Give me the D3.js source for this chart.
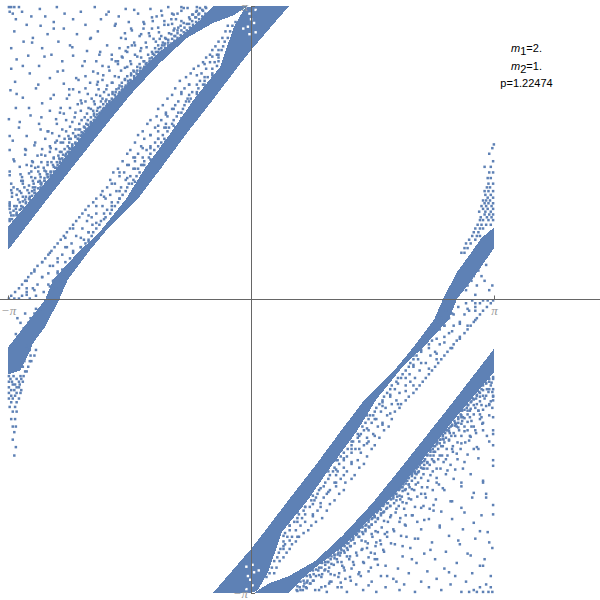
<!DOCTYPE html>
<html><head><meta charset="utf-8">
<script src="https://cdn.jsdelivr.net/npm/d3@7"></script>
<style>html,body{margin:0;background:#fff}svg{display:block}</style></head><body>
<svg id="c" width="600" height="600"></svg>
<script>
const PI = Math.PI;
const xTicks = [-PI, PI];
const yTicks = [-PI, PI];
const annotations = [["m","1","=2."],["m","2","=1."],["","","p=1.22474"]];

// dense bands, read as outlines [x, y]
const bandA = [[-3.14,.53],[-2.6,1.11],[-1.95,1.79],[-1.56,2.19],[-1.18,2.53],[-.83,2.8],[-.49,2.96],[-.23,3.04],[-.04,3.14],[-.49,3.14],[-.66,2.99],[-.83,2.87],[-1.18,2.65],[-1.56,2.33],[-1.95,2.0],[-2.6,1.31],[-3.14,.78]];
const bandB = [[.49,3.14],[0,2.67],[-.17,2.49],[-.49,2.14],[-.83,1.78],[-1.15,1.42],[-1.47,1.07],[-1.87,.74],[-2.11,.5],[-2.37,.21],[-2.48,0],[-2.66,-.29],[-2.82,-.47],[-2.88,-.59],[-2.98,-.76],[-3.14,-.8],[-3.14,-.51],[-2.66,0],[-2.56,.21],[-2.24,.5],[-1.97,.71],[-1.62,1.07],[-1.36,1.42],[-1.04,1.78],[-.74,2.14],[-.4,2.49],[-.22,2.92],[-.08,3.12],[.02,3.14]];
const bandC = [[3.14,-.53],[2.6,-1.11],[1.95,-1.79],[1.56,-2.19],[1.18,-2.53],[.83,-2.8],[.49,-2.96],[.23,-3.04],[.04,-3.14],[.49,-3.14],[.66,-2.99],[.83,-2.87],[1.18,-2.65],[1.56,-2.33],[1.95,-2.0],[2.6,-1.31],[3.14,-.78]];
const bandD = [[-.49,-3.14],[0,-2.67],[.17,-2.49],[.49,-2.14],[.83,-1.78],[1.15,-1.42],[1.47,-1.07],[1.87,-.74],[2.11,-.5],[2.37,-.21],[2.48,0],[2.66,.29],[2.82,.47],[2.98,.66],[3.14,.77],[3.14,.55],[2.96,.33],[2.66,0],[2.56,-.21],[2.24,-.5],[1.97,-.71],[1.62,-1.07],[1.36,-1.42],[1.04,-1.78],[.74,-2.14],[.4,-2.49],[.22,-2.92],[.08,-3.12],[-.02,-3.14]];

// scattered points, one row per y value: [y, x, x, x, ...]
const rowsFarTopLeft = [
[3.13,-3.13,-3.1,-3.06,-3.0,-2.51,-2.02,-1.07,-.9,-.7],[3.11,-2.73,-1.62,-1.3],[3.08,-3.12,-2.96,-2.2,-1.84],[3.06,-3.08,-2.41,-1.46,-1.02],[3.03,-2.84,-2.66,-1.71,-1.22],[3.0,-3.04,-2.3,-1.94,-.97],[2.97,-2.55,-1.58,-1.39],[2.94,-2.9,-2.14,-1.12],[2.93,-2.72,-1.76],[2.9,-2.42,-1.28,-1.55],[2.87,-3.06,-1.98],[2.84,-2.63,-2.25,-1.42],[2.8,-2.82,-1.68],[2.79,-2.08,-1.18],[2.76,-2.94,-2.49],[2.72,-2.34,-1.86,-1.5],[2.69,-3.1,-2.7],[2.66,-2.12,-1.62],[2.62,-2.58,-1.96],[2.61,-2.88,-2.3],[2.57,-3.03,-1.8],[2.55,-2.44,-1.72],[2.5,-2.74,-2.18,-1.92],[2.47,-3.1],[2.44,-2.5,-2.04],[2.42,-2.86],[2.37,-2.26,-2.6],[2.33,-3.05,-1.98],[2.31,-2.42],[2.26,-2.78,-2.14],[2.24,-3.11],[2.19,-2.55,-2.35],[2.16,-2.95],[2.13,-2.2],[2.1,-2.7],[2.05,-3.04,-2.46],[2.02,-2.6],[1.97,-2.85],[1.93,-3.13,-2.52],[1.88,-2.74],[1.84,-3.0],[1.8,-2.62],[1.75,-2.9],[1.7,-3.08],[1.65,-2.8],[1.6,-3.12],[1.55,-2.92],[1.48,-3.06],[1.43,-2.84],[1.37,-3.12],[1.31,-2.96],[1.24,-3.1],[1.18,-3.02]];

const rowsNearTopLeft = [
[.86,-3.09,-3.12],[.9,-3.03,-3.1],[.93,-3.11,-3.03],[.97,-3.12,-2.97,-3.04],[1.0,-3.06,-2.97,-3.12],[1.04,-2.91,-3.12,-2.99],[1.07,-2.92,-2.86,-3.01],[1.1,-2.95,-3.09,-2.86],[1.14,-2.8,-2.97,-2.87,-3.09],[1.17,-2.8,-2.89,-3.1],[1.2,-2.82,-2.72,-2.93],[1.24,-2.72,-2.95,-2.81],[1.27,-2.73,-2.67,-2.97,-2.82],[1.31,-2.72,-2.62,-2.84],[1.34,-2.64,-2.73,-2.98],[1.37,-2.59,-2.65,-2.84,-2.75],[1.41,-2.68,-2.53,-2.79],[1.44,-2.5,-2.63,-2.9,-2.56],[1.47,-2.71,-2.47,-2.58,-2.82],[1.51,-2.44,-2.55,-2.48],[1.54,-2.66,-2.4,-2.49,-2.76],[1.58,-2.37,-2.6,-2.45],[1.61,-2.34,-2.52,-2.41,-2.7,-2.92],[1.64,-2.31,-2.37,-2.6],[1.68,-2.46,-2.27,-2.35,-2.53],[1.72,-2.24,-2.66,-2.33,-2.41],[1.75,-2.2,-2.27,-2.48,-2.36],[1.78,-2.57,-2.17,-2.3],[1.82,-2.13,-2.21,-2.44,-2.27,-2.72],[1.85,-2.34,-2.09,-2.16],[1.88,-2.07,-2.22,-2.51,-2.13],[1.92,-2.03,-2.11,-2.39,-2.19],[1.95,-2.01,-2.28,-2.07],[1.99,-1.96,-2.12,-2.03,-2.42],[2.02,-2.2,-1.93,-2.04],[2.05,-1.9,-2.34,-1.98,-2.1],[2.09,-1.86,-2.02,-2.24],[2.12,-1.94,-1.83,-2.14,-1.88],[2.15,-1.8,-2.38,-1.92,-2.06],[2.19,-1.76,-1.84,-2.0],[2.22,-2.22,-1.7,-1.79,-1.9],[2.25,-1.66,-1.97,-1.74,-2.3],[2.29,-1.62,-1.86,-1.7],[2.32,-2.08,-1.58,-1.67,-1.8],[2.35,-1.56,-1.92,-1.63],[2.39,-1.51,-1.76,-1.6,-2.14],[2.42,-1.48,-1.55,-1.98],[2.45,-1.68,-1.43,-1.52],[2.49,-1.38,-1.84,-1.47,-1.6],[2.52,-1.36,-1.72,-1.44],[2.55,-1.56,-1.31,-1.38,-2.0],[2.59,-1.28,-1.42,-1.66],[2.62,-1.25,-1.8,-1.33,-1.5],[2.65,-1.6,-1.2,-1.28],[2.69,-1.16,-1.42,-1.24,-1.7],[2.72,-1.12,-1.2,-1.54],[2.75,-1.36,-1.07,-1.14],[2.79,-1.02,-1.62,-1.1,-1.26],[2.82,-.98,-1.16,-1.44],[2.85,-.95,-1.06,-1.32],[2.88,-.9,-1.54,-1.0],[2.91,-.86,-1.2,-.94],[2.95,-.8,-1.02,-1.38],[2.98,-.76,-.9,-1.12],[3.02,-.72,-1.28,-.8],[3.05,-.68,-1.0,-.76],[3.09,-.62,-.9,-1.16,-.7],[3.12,-.58,-.66,-.82]];

const rowsGapUpper = [
[3.08,.02,-.05,.08],[3.03,-.12,.05],[2.97,-.2,-.16],[2.93,-.24,-.3],[2.87,-.33,-.27],[2.8,-.37,-.3],[2.76,-.34,-.42],[2.71,-.46,-.36],[2.67,-.38,-.5,-.42],[2.62,-.53,-.44],[2.59,-.42,-.58],[2.54,-.62,-.47,-.53],[2.5,-.44,-.68],[2.47,-.58,-.5,-.74],[2.42,-.5,-.64,-.78],[2.38,-.84,-.56,-.6],[2.34,-.66,-.92,-.6],[2.3,-.7,-.62,-.8],[2.26,-.98,-.68,-.86],[2.22,-.76,-.9,-.7],[2.19,-1.02,-.8],[2.15,-.82,-.78,-1.08],[2.12,-.94,-.84],[2.08,-1.14,-.86,-.98],[2.04,-1.02,-.88,-1.2],[2.0,-.94,-1.1],[1.96,-1.22,-.96,-1.08],[1.92,-1.0,-1.16,-1.3],[1.88,-1.34,-1.02,-1.1],[1.84,-1.06,-1.24,-1.12],[1.8,-1.4,-1.08,-1.2],[1.76,-1.14,-1.3,-1.46],[1.72,-1.2,-1.12,-1.38],[1.68,-1.5,-1.24,-1.16],[1.64,-1.2,-1.42,-1.3],[1.6,-1.56,-1.25,-1.35],[1.56,-1.3,-1.6,-1.46],[1.52,-1.32,-1.4,-1.52],[1.48,-1.66,-1.38,-1.5],[1.44,-1.42,-1.58,-1.38],[1.4,-1.72,-1.46,-1.52],[1.36,-1.44,-1.64,-1.78],[1.32,-1.56,-1.48,-1.7],[1.28,-1.82,-1.52,-1.62],[1.24,-1.58,-1.76,-1.54],[1.2,-1.86,-1.6,-1.68],[1.16,-1.62,-1.92,-1.74],[1.12,-1.66,-1.82,-1.94],[1.08,-1.7,-2.0,-1.88],[1.04,-1.72,-1.8,-2.04],[1.0,-1.92,-1.76,-2.1],[.96,-1.86,-1.8,-2.14],[.92,-2.0,-1.82,-2.18],[.88,-1.88,-2.22,-2.06],[.84,-2.12,-1.94,-2.26],[.8,-1.96,-2.3,-2.05],[.76,-2.0,-2.34,-2.18],[.72,-2.1,-2.04,-2.38],[.68,-2.42,-2.26,-2.06],[.64,-2.1,-2.46,-2.16],[.6,-2.32,-2.14,-2.5],[.56,-2.2,-2.54,-2.38],[.52,-2.16,-2.3,-2.58],[.48,-2.62,-2.22,-2.44],[.44,-2.34,-2.66,-2.26],[.4,-2.5,-2.7,-2.28],[.36,-2.76,-2.36,-2.56],[.32,-2.44,-2.8,-2.36],[.28,-2.62,-2.84,-2.5],[.24,-2.42,-2.88,-2.7],[.2,-2.92,-2.56,-2.46],[.16,-2.76,-2.96,-2.62],[.12,-2.52,-3.0,-2.82],[.08,-3.05,-2.68,-2.9],[.04,-3.1,-2.96,-2.78],[.01,-3.13,-3.06,-3.0,-2.86],[-.1,-2.78,-2.72],[-.15,-2.92,-2.8],[-.2,-2.85,-3.02],[-.25,-2.98,-2.88],[-.31,-2.94],[-.37,-3.04]];

const rowsFarLowerRight = [
[-3.13,3.12,3.07,3.0,2.92,2.82,2.72,2.12,1.62,1.24,.98],[-3.11,2.88,2.46,1.92,1.45],[-3.08,3.1,2.96,2.3,1.74,1.12],[-3.05,3.04,2.58,1.98,1.36],[-3.02,2.78,2.2,1.56,1.02],[-2.99,2.4,1.84,1.22],[-2.96,3.1,2.64,1.68,1.42],[-2.93,2.86,2.04,1.14],[-2.91,2.28,1.52],[-2.88,2.5,1.9,1.3],[-2.85,2.96,1.74,1.18],[-2.82,2.66,2.14,1.46],[-2.78,3.02,2.38,1.6],[-2.75,1.96,1.28],[-2.72,2.8,2.24],[-2.7,2.52,1.72],[-2.66,3.12,2.06,1.5],[-2.62,2.7,1.86],[-2.6,2.34,1.62],[-2.56,2.9,2.12],[-2.53,2.56,1.94],[-2.49,3.06,1.76],[-2.46,2.74,2.2],[-2.42,2.44,2.0],[-2.39,2.88],[-2.35,2.6,2.3],[-2.31,2.98,2.08],[-2.27,2.46],[-2.23,2.72,2.2],[-2.2,3.13,2.36],[-2.16,2.58],[-2.12,2.86,2.26],[-2.08,3.04],[-2.04,2.5],[-2.0,2.72],[-1.96,3.0,2.4],[-1.92,2.62],[-1.87,2.84],[-1.83,2.54],[-1.78,3.13],[-1.74,2.76],[-1.7,2.94],[-1.65,2.66],[-1.6,2.88],[-1.56,3.13],[-1.51,2.82],[-1.46,3.05],[-1.4,3.13,2.9],[-1.32,3.0],[-1.26,3.13],[-1.19,2.94],[-1.12,3.08],[-1.04,3.13]];

const rowsNearLowerRight = [
[-.85,3.08,3.13],[-.89,3.04,3.11],[-.92,3.1,3.0],[-.96,3.13,2.98,3.05],[-.99,3.07,2.95,3.12],[-1.03,2.92,3.13,3.0],[-1.06,2.91,2.87,3.02],[-1.09,2.96,3.1,2.85],[-1.13,2.81,2.98,2.88,3.08],[-1.16,2.79,2.9,3.12],[-1.19,2.83,2.73,2.94],[-1.23,2.71,2.96,2.8],[-1.26,2.74,2.68,2.98,2.83],[-1.3,2.73,2.63,2.85],[-1.33,2.65,2.72,2.99],[-1.36,2.58,2.66,2.85,2.76],[-1.4,2.69,2.54,2.8],[-1.43,2.51,2.62,2.91,2.57],[-1.46,2.72,2.48,2.59,2.83],[-1.5,2.45,2.56,2.49],[-1.53,2.67,2.41,2.5,2.77],[-1.57,2.38,2.61,2.46],[-1.6,2.35,2.53,2.42,2.71,2.94],[-1.63,2.32,2.38,2.61],[-1.67,2.47,2.28,2.36,2.54],[-1.71,2.25,2.67,2.34,2.42],[-1.74,2.21,2.28,2.49,2.37],[-1.77,2.58,2.18,2.31],[-1.81,2.14,2.22,2.45,2.28,2.74],[-1.84,2.35,2.1,2.17],[-1.87,2.08,2.23,2.52,2.14],[-1.91,2.04,2.12,2.4,2.2],[-1.94,2.02,2.29,2.08],[-1.98,1.97,2.13,2.04,2.43],[-2.01,2.21,1.94,2.05],[-2.04,1.91,2.35,1.99,2.11],[-2.08,1.87,2.03,2.25],[-2.11,1.95,1.84,2.15,1.89],[-2.14,1.81,2.39,1.93,2.07],[-2.18,1.77,1.85,2.01],[-2.21,2.23,1.71,1.8,1.91],[-2.24,1.67,1.98,1.75,2.31],[-2.28,1.63,1.87,1.71],[-2.31,2.09,1.59,1.68,1.81],[-2.34,1.57,1.93,1.64],[-2.38,1.52,1.77,1.61,2.15],[-2.41,1.49,1.56,1.99],[-2.44,1.69,1.44,1.53],[-2.48,1.39,1.85,1.48,1.61],[-2.51,1.37,1.73,1.45],[-2.54,1.57,1.32,1.39,2.01],[-2.58,1.29,1.43,1.67],[-2.61,1.26,1.81,1.34,1.51],[-2.64,1.61,1.21,1.29],[-2.68,1.17,1.43,1.25,1.71],[-2.71,1.13,1.21,1.55],[-2.74,1.37,1.08,1.15],[-2.78,1.03,1.63,1.11,1.27],[-2.81,.99,1.17,1.45],[-2.84,.96,1.07,1.33],[-2.87,.91,1.55,1.01],[-2.9,.87,1.21,.95],[-2.94,.81,1.03,1.39],[-2.97,.77,.91,1.13],[-3.01,.73,1.29,.81],[-3.04,.69,1.01,.77],[-3.08,.63,.91,1.17,.71],[-3.11,.59,.67,.83]];

const rowsGapLower = [
[-3.08,-.02,.05,-.08],[-3.03,.12,-.05],[-2.97,.2,.16],[-2.93,.24,.3],[-2.87,.33,.27],[-2.8,.37,.3],[-2.76,.34,.42],[-2.71,.46,.36],[-2.67,.38,.5,.42],[-2.62,.53,.44],[-2.59,.42,.58],[-2.54,.62,.47,.53],[-2.5,.44,.68],[-2.47,.58,.5,.74],[-2.42,.5,.64,.78],[-2.38,.84,.56,.6],[-2.34,.66,.92,.6],[-2.3,.7,.62,.8],[-2.26,.98,.68,.86],[-2.22,.76,.9,.7],[-2.19,1.02,.8],[-2.15,.82,.78,1.08],[-2.12,.94,.84],[-2.08,1.14,.86,.98],[-2.04,1.02,.88,1.2],[-2.0,.94,1.1],[-1.96,1.22,.96,1.08],[-1.92,1.0,1.16,1.3],[-1.88,1.34,1.02,1.1],[-1.84,1.06,1.24,1.12],[-1.8,1.4,1.08,1.2],[-1.76,1.14,1.3,1.46],[-1.72,1.2,1.12,1.38],[-1.68,1.5,1.24,1.16],[-1.64,1.2,1.42,1.3],[-1.6,1.56,1.25,1.35],[-1.56,1.3,1.6,1.46],[-1.52,1.32,1.4,1.52],[-1.48,1.66,1.38,1.5],[-1.44,1.42,1.58,1.38],[-1.4,1.72,1.46,1.52],[-1.36,1.44,1.64,1.78],[-1.32,1.56,1.48,1.7],[-1.28,1.82,1.52,1.62],[-1.24,1.58,1.76,1.54],[-1.2,1.86,1.6,1.68],[-1.16,1.62,1.92,1.74],[-1.12,1.66,1.82,1.94],[-1.08,1.7,2.0,1.88],[-1.04,1.72,1.8,2.04],[-1.0,1.92,1.76,2.1],[-.96,1.86,1.8,2.14],[-.92,2.0,1.82,2.18],[-.88,1.88,2.22,2.06],[-.84,2.12,1.94,2.26],[-.8,1.96,2.3,2.05],[-.76,2.0,2.34,2.18],[-.72,2.1,2.04,2.38],[-.68,2.42,2.26,2.06],[-.64,2.1,2.46,2.16],[-.6,2.32,2.14,2.5],[-.56,2.2,2.54,2.38],[-.52,2.16,2.3,2.58],[-.48,2.62,2.22,2.44],[-.44,2.34,2.66,2.26],[-.4,2.5,2.7,2.28],[-.36,2.76,2.36,2.56],[-.32,2.44,2.8,2.36],[-.28,2.62,2.84,2.5],[-.24,2.42,2.88,2.7],[-.2,2.92,2.56,2.46],[-.16,2.76,2.96,2.62],[-.12,2.52,3.0,2.82],[-.08,3.05,2.68,2.9],[-.04,3.1,2.96,2.78],[-.01,3.13,3.06,3.0,2.86],[.1,2.78,2.72,3.08],[.15,2.92,2.8,3.12],[.2,2.85,3.02],[.25,2.98,2.88],[.31,2.94],[.37,3.04]];

const rowsTails = [
[-.5,-2.9],[-.54,-2.86,-2.78],[-.6,-2.85,-2.8],[-.66,-2.93,-2.86,-2.84],[-.72,-2.95,-2.88],[-.77,-2.92,-2.9],[-.82,-3.13,-3.07,-2.98,-2.94],[-.85,-3.11,-3.03,-2.97],[-.88,-3.13,-3.09,-3.0,-2.95],[-.91,-3.08,-3.05,-2.99],[-.94,-3.13,-3.0,-3.03],[-.97,-3.1,-3.06,-2.97],[-1.0,-3.13,-3.03,-2.98],[-1.03,-3.1,-3.05],[-1.06,-3.13,-3.08,-3.0],[-1.1,-3.1,-3.03],[-1.15,-3.12,-3.05],[-1.2,-3.08,-3.03],[-1.28,-3.1,-3.05],[-1.36,-3.08,-3.04],[-1.42,-3.06],[-1.5,-3.08],[-1.58,-3.04],[-1.67,-3.06],
[.5,2.72,2.76],[.55,2.8,2.76],[.6,2.84,2.78],[.64,2.82,2.9],[.68,2.86,2.92,2.96],[.72,2.88,2.94],[.76,2.9,3.0,2.96],[.8,3.1,3.04,2.98,2.93],[.85,3.13,3.07,3.0,2.96],[.88,3.11,3.05,2.97],[.91,3.13,3.08,3.02],[.94,3.1,3.03,2.95],[.97,3.13,3.06,3.0],[1.0,3.11,3.04,2.98],[1.03,3.13,3.07,3.02],[1.06,3.09,3.04,3.0],[1.09,3.13,3.06],[1.12,3.1,3.03],[1.16,3.13,3.07,3.02],[1.2,3.09,3.05],[1.24,3.13,3.07],[1.3,3.1,3.06],[1.36,3.13,3.08],[1.42,3.1,3.02],[1.48,3.13],[1.56,3.08],[1.62,3.12],[1.66,3.14]];

// further scattered points, one column per x value: [x, y, y, y, ...]
const colsTopLeft = [
[-3.12,.84,1.02,1.33,1.75],[-3.07,.9,.95,1.2,1.5],[-3.03,1.0,.91,1.12,2.2],[-2.99,.96,1.16,1.42,1.9],[-2.95,1.05,1.27,.99,2.5],[-2.91,1.03,1.1,1.6],[-2.87,1.08,1.35,1.22,2.05],[-2.83,1.11,1.16,1.48,2.75],[-2.79,1.2,1.14,1.3,1.68],[-2.75,1.19,1.42,1.26,2.3],[-2.71,1.23,1.25,1.55,1.95],[-2.67,1.38,1.27,1.3,2.6],[-2.63,1.31,1.47,1.34,1.8],[-2.59,1.36,1.33,1.62,2.15],[-2.55,1.42,1.37,1.52,2.9],[-2.51,1.41,1.47,1.7],[-2.47,1.5,1.46,1.58,2.0],[-2.43,1.49,1.68,1.55,2.45],[-2.39,1.56,1.53,1.8],[-2.35,1.58,1.72,1.62,2.25],[-2.31,1.62,1.66,1.9,2.7],[-2.27,1.67,1.74,2.0],[-2.23,1.72,1.82,1.76,2.35],[-2.19,1.76,1.79,2.1],[-2.15,1.8,1.95,1.84,2.55],[-2.11,1.83,1.87,2.2],[-2.07,1.9,2.04,1.88,2.8],[-2.03,1.92,2.12,1.97],[-1.99,1.98,2.02,2.3],[-1.95,2.0,2.18,2.06,2.65],[-1.91,2.04,2.09,2.4],[-1.87,2.07,2.14,2.25,3.05],[-1.83,2.1,2.12,2.45],[-1.79,2.14,2.32,2.2],[-1.75,2.17,2.22,2.55,2.95],[-1.71,2.2,2.38,2.26],[-1.67,2.24,2.28,2.6],[-1.63,2.27,2.36,2.48,2.85],[-1.59,2.31,2.34,2.7],[-1.55,2.34,2.52,2.4],[-1.51,2.37,2.44,2.75,3.1],[-1.47,2.41,2.6,2.45],[-1.43,2.44,2.48,2.66],[-1.39,2.47,2.55,2.9],[-1.35,2.5,2.7,2.53],[-1.31,2.54,2.58,2.82],[-1.27,2.57,2.63,2.98],[-1.23,2.6,2.76,2.65],[-1.19,2.64,2.68,2.86],[-1.15,2.66,2.72,3.04],[-1.11,2.69,2.8,2.74],[-1.07,2.72,2.78,2.94],[-1.03,2.74,2.84,3.0],[-.99,2.77,2.82,2.9],[-.95,2.8,2.88,3.06],[-.91,2.83,2.93],[-.87,2.86,2.96,3.12],[-.83,2.88,2.95],[-.79,2.91,3.0],[-.75,2.94,3.05],[-.71,2.97,3.08,3.02],[-.67,3.0,3.06],[-.63,3.03,3.1],[-.59,3.06,3.13]];

const colsLowerRight = [
[3.13,-.83,-1.08,-1.44,-1.72,-2.3],[3.08,-.88,-.96,-1.24,-1.52,-2.6],[3.04,-.9,-1.03,-1.14,-2.12],[3.0,-.97,-1.18,-1.4,-1.94,-2.85],[2.96,-1.04,-1.28,-1.0,-2.48],[2.92,-1.02,-1.12,-1.58],[2.88,-1.07,-1.36,-1.23,-2.07],[2.84,-1.1,-1.17,-1.47,-2.74],[2.8,-1.19,-1.13,-1.31,-1.66],[2.76,-1.18,-1.41,-1.27,-2.28],[2.72,-1.24,-1.26,-1.54,-1.96],[2.68,-1.37,-1.28,-1.32,-2.58],[2.64,-1.32,-1.46,-1.35,-1.82],[2.6,-1.35,-1.34,-1.6,-2.16],[2.56,-1.41,-1.38,-1.51,-2.92],[2.52,-1.4,-1.48,-1.71],[2.48,-1.49,-1.45,-1.57,-2.02],[2.44,-1.5,-1.67,-1.54,-2.44],[2.4,-1.55,-1.52,-1.81],[2.36,-1.57,-1.73,-1.63,-2.26],[2.32,-1.61,-1.67,-1.88,-2.68],[2.28,-1.66,-1.75,-2.01],[2.24,-1.73,-1.81,-1.77,-2.36],[2.2,-1.75,-1.8,-2.08],[2.16,-1.79,-1.96,-1.85,-2.56],[2.12,-1.84,-1.86,-2.22],[2.08,-1.89,-2.03,-1.87,-2.78],[2.04,-1.91,-2.13,-1.98],[2.0,-1.97,-2.03,-2.31],[1.96,-2.01,-2.17,-2.05,-2.64],[1.92,-2.03,-2.1,-2.38],[1.88,-2.08,-2.15,-2.24,-3.02],[1.84,-2.09,-2.13,-2.46],[1.8,-2.13,-2.33,-2.21],[1.76,-2.18,-2.23,-2.54,-2.96],[1.72,-2.19,-2.37,-2.27],[1.68,-2.25,-2.29,-2.62],[1.64,-2.26,-2.35,-2.49,-2.84],[1.6,-2.32,-2.33,-2.72],[1.56,-2.35,-2.51,-2.41],[1.52,-2.36,-2.43,-2.76,-3.06],[1.48,-2.42,-2.59,-2.46],[1.44,-2.43,-2.49,-2.67],[1.4,-2.48,-2.54,-2.92],[1.36,-2.49,-2.71,-2.52],[1.32,-2.55,-2.57,-2.81],[1.28,-2.56,-2.64,-2.97],[1.24,-2.61,-2.75,-2.66],[1.2,-2.63,-2.69,-2.87],[1.16,-2.67,-2.71,-3.03],[1.12,-2.68,-2.81,-2.73],[1.08,-2.73,-2.77,-2.95],[1.04,-2.75,-2.83,-3.02],[1.0,-2.76,-2.81,-2.91],[.96,-2.81,-2.89,-3.07],[.92,-2.82,-2.94],[.88,-2.87,-2.95,-3.11],[.84,-2.89,-2.96],[.8,-2.9,-3.01],[.76,-2.95,-3.04],[.72,-2.96,-3.09,-3.03],[.68,-3.01,-3.07],[.64,-3.02,-3.11],[.6,-3.07,-3.12]];

const colsGapUpper = [
[-2.9,.12,.2,.05],[-2.8,.3,.1],[-2.7,.24,.4],[-2.6,.36,.5,.14],[-2.5,.44,.3],[-2.4,.56,.4,.66],[-2.3,.5,.76],[-2.2,.66,.56],[-2.1,.72,.9,.62],[-2.0,.82,1.0],[-1.9,.92,1.1,.86],[-1.8,1.0,1.24],[-1.7,1.16,1.08,1.36],[-1.6,1.3,1.44],[-1.5,1.26,1.52,1.4],[-1.4,1.44,1.62],[-1.3,1.5,1.76,1.62],[-1.2,1.72,1.86],[-1.1,1.7,1.98,1.84],[-1.0,1.86,2.04],[-.9,2.0,2.2,1.94],[-.8,2.12,2.3],[-.7,2.2,2.4],[-.6,2.3,2.52],[-.5,2.4,2.6],[-.42,2.55,2.62]];

const colsGapLower = [
[2.9,-.12,-.22,-.04,.05],[2.8,-.28,-.1],[2.7,-.26,-.42],[2.6,-.34,-.52,-.15],[2.5,-.46,-.28],[2.4,-.58,-.42,-.64],[2.3,-.48,-.74],[2.2,-.68,-.54],[2.1,-.7,-.92,-.6],[2.0,-.84,-.98],[1.9,-.9,-1.12,-.84],[1.8,-1.02,-1.22],[1.7,-1.14,-1.1,-1.34],[1.6,-1.28,-1.46],[1.5,-1.24,-1.54,-1.38],[1.4,-1.46,-1.6],[1.3,-1.52,-1.74,-1.6],[1.2,-1.7,-1.88],[1.1,-1.72,-1.96,-1.82],[1.0,-1.84,-2.06],[.9,-2.02,-2.18,-1.92],[.8,-2.1,-2.32],[.7,-2.22,-2.38],[.6,-2.28,-2.54],[.5,-2.42,-2.58],[.42,-2.53,-2.64]];

// pale gaps inside the dense bands near the two tips: [x, y]
const gapsInBands = [[-.02,3.06],[.0,3.0],[.04,2.96],[-.04,2.92],[.06,3.1],[-.1,2.9],[-.02,2.84],[.06,2.86],
[.02,-3.06],[-.01,-3.0],[-.04,-2.96],[.04,-2.92],[-.06,-3.1],[.1,-2.9],[.02,-2.84],[-.06,-2.86]];

const svg = d3.select("#c");
const x = d3.scaleLinear().domain([-PI, PI]).range([8, 494]);
const y = d3.scaleLinear().domain([-PI, PI]).range([593, 6]);
const blue = "#5E81B5", gray = "#666", labelGray = "#999";

const band = d3.line().x(d => x(d[0])).y(d => y(d[1])).curve(d3.curveLinearClosed);
svg.append("g").selectAll("path").data([bandA, bandB, bandC, bandD]).join("path")
  .attr("d", band).attr("fill", blue).attr("shape-rendering", "crispEdges");

svg.append("g").selectAll("rect").data(gapsInBands).join("rect")
  .attr("x", d => x(d[0]) - 1.2).attr("y", d => y(d[1]) - 1.2)
  .attr("width", 2.4).attr("height", 2.4).attr("fill", "#fff");

const rowPoints = [rowsFarTopLeft, rowsNearTopLeft, rowsGapUpper, rowsFarLowerRight, rowsNearLowerRight, rowsGapLower, rowsTails]
  .flat().flatMap(([yv, ...xs]) => xs.map(xv => [xv, yv]));
const colPoints = [colsTopLeft, colsLowerRight, colsGapUpper, colsGapLower]
  .flat().flatMap(([xv, ...ys]) => ys.map(yv => [xv, yv]));
svg.append("g").selectAll("rect").data(rowPoints.concat(colPoints)).join("rect")
  .attr("x", d => x(d[0]) - 1.25).attr("y", d => y(d[1]) - 1.25)
  .attr("width", 2.5).attr("height", 2.5).attr("fill", blue);

const piLabel = v => (v < 0 ? "\u2212" : "") + "\u03c0";
const xAxis = d3.axisBottom(x).tickValues(xTicks).tickSize(0).tickFormat(piLabel);
const gx = svg.append("g").attr("transform", `translate(0,${y(0)})`).call(xAxis);
gx.select(".domain").remove();
gx.selectAll(".tick line").attr("y2", -4).attr("stroke", gray);
gx.selectAll(".tick text").attr("y", 6).attr("fill", labelGray)
  .attr("font-family", "Liberation Serif").attr("font-style", "italic").attr("font-size", 13);
svg.append("line").attr("x1", 0).attr("x2", 600).attr("y1", y(0)).attr("y2", y(0)).attr("stroke", gray);

const yAxis = d3.axisLeft(y).tickValues(yTicks).tickSize(0).tickFormat(piLabel);
const gy = svg.append("g").attr("transform", `translate(${x(0)},0)`).call(yAxis);
gy.select(".domain").attr("stroke", gray);
gy.selectAll(".tick line").attr("x2", 4).attr("stroke", gray);
gy.selectAll(".tick text").attr("x", -3).attr("fill", labelGray)
  .attr("font-family", "Liberation Serif").attr("font-style", "italic").attr("font-size", 13);

const note = svg.append("g").attr("font-family", "Liberation Sans").attr("font-size", 11).attr("fill", "#000").attr("text-anchor", "middle");
note.selectAll("text").data(annotations).join("text")
  .attr("x", 526.5).attr("y", (d, i) => [52, 70, 87][i])
  .each(function (d) {
    const t = d3.select(this);
    if (d[0]) {
      t.append("tspan").attr("font-style", "italic").text(d[0]);
      t.append("tspan").attr("dy", 3).text(d[1]);
      t.append("tspan").attr("dy", -3).text(d[2]);
    } else t.text(d[2]);
  });
</script></body></html>
